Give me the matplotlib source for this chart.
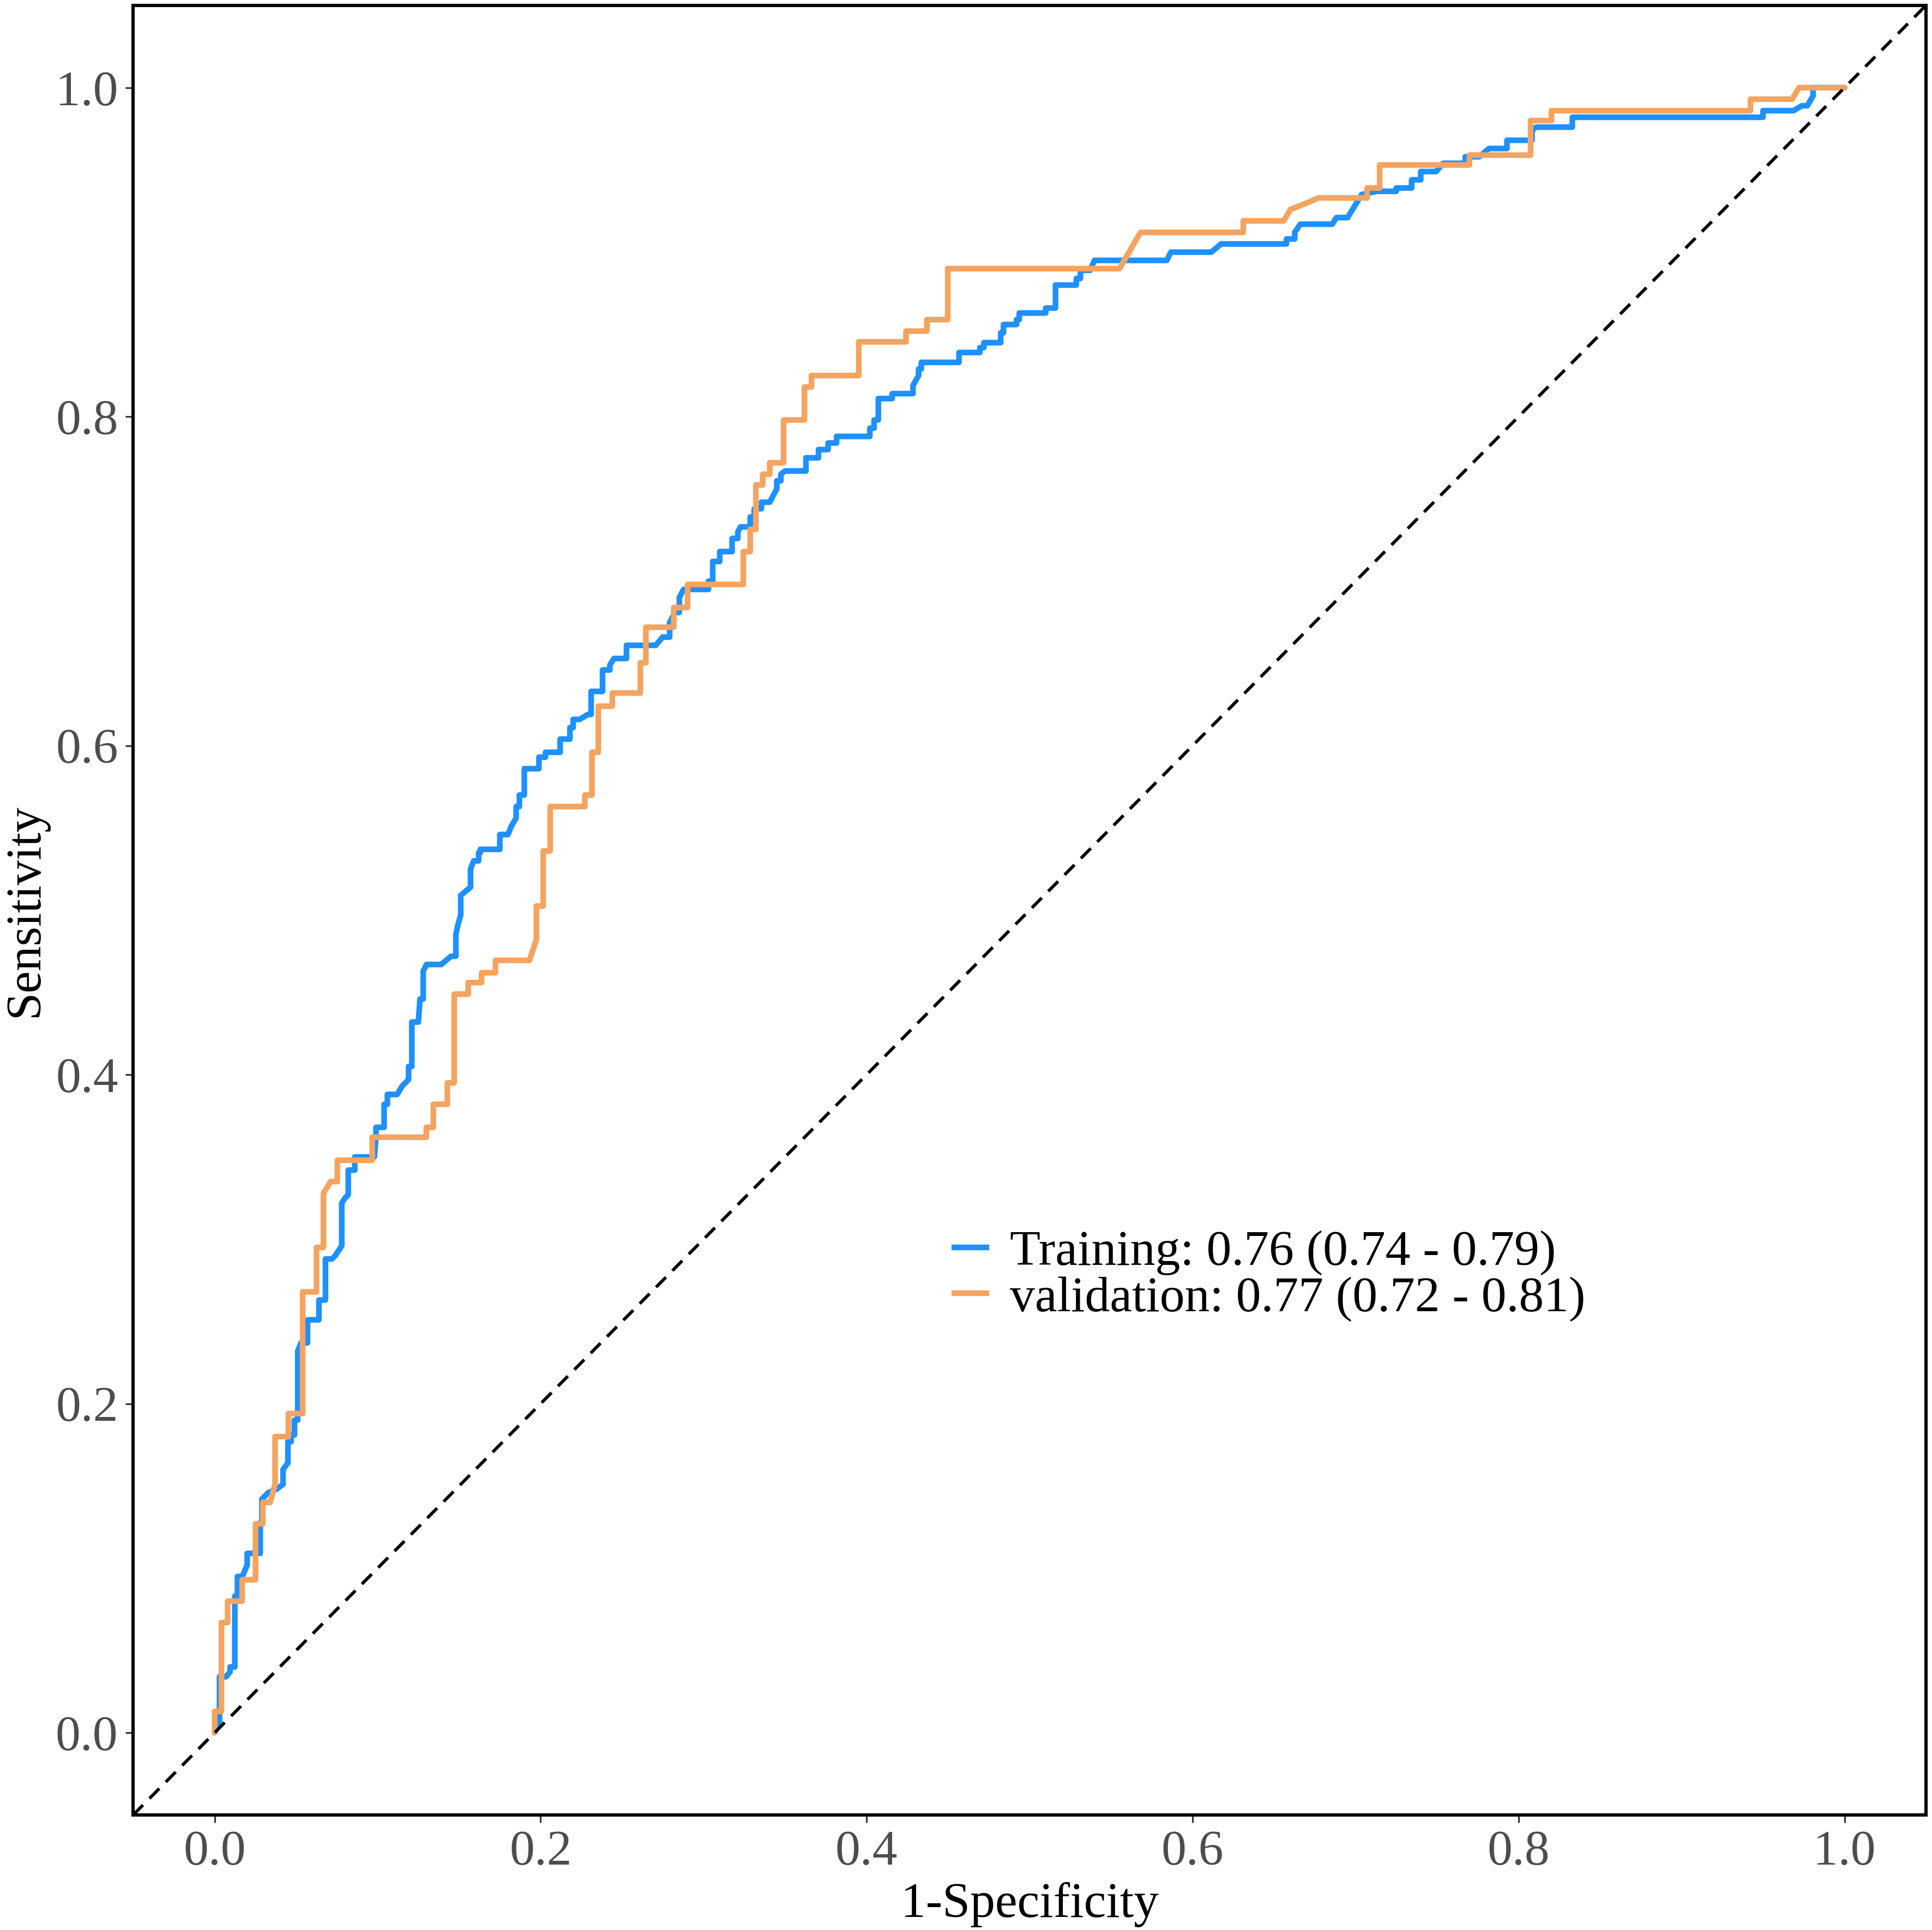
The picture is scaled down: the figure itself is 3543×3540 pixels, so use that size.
# ROC curves for the training and validation sets
import matplotlib
matplotlib.use("Agg")
import matplotlib.pyplot as plt

# Curve vertices (1-specificity, sensitivity)
fpr_train = [0.000, 0.003, 0.003, 0.007, 0.0095, 0.0095, 0.0124, 0.0124, 0.014, 0.014,
             0.017, 0.020, 0.020, 0.028, 0.028, 0.029, 0.029, 0.033, 0.038, 0.042,
             0.042, 0.045, 0.045, 0.047, 0.047, 0.049, 0.049, 0.051, 0.051, 0.053,
             0.057, 0.057, 0.064, 0.064, 0.068, 0.068, 0.072, 0.074, 0.078, 0.078,
             0.080, 0.082, 0.082, 0.086, 0.086, 0.098, 0.099, 0.099, 0.104, 0.104,
             0.106, 0.106, 0.112, 0.115, 0.119, 0.119, 0.121, 0.121, 0.125, 0.126,
             0.128, 0.128, 0.130, 0.139, 0.145, 0.148, 0.148, 0.149, 0.151, 0.151,
             0.157, 0.157, 0.159, 0.162, 0.162, 0.163, 0.163, 0.175, 0.175, 0.180,
             0.182, 0.185, 0.185, 0.187, 0.187, 0.190, 0.190, 0.199, 0.199, 0.203,
             0.203, 0.212, 0.212, 0.218, 0.218, 0.220, 0.220, 0.224, 0.229, 0.231,
             0.231, 0.238, 0.238, 0.2425, 0.2425, 0.245, 0.2527, 0.2527, 0.2706, 0.2749,
             0.2792, 0.2792, 0.2826, 0.2851, 0.2851, 0.2877, 0.303, 0.303, 0.3056, 0.3056,
             0.3099, 0.3099, 0.3175, 0.3175, 0.321, 0.321, 0.3227, 0.3286, 0.3286, 0.3311,
             0.3311, 0.3355, 0.3355, 0.3406, 0.3432, 0.3449, 0.3449, 0.3474, 0.3474, 0.350,
             0.3628, 0.3628, 0.3705, 0.3705, 0.3764, 0.3764, 0.3816, 0.3816, 0.402, 0.402,
             0.4046, 0.4046, 0.4072, 0.4072, 0.4157, 0.4157, 0.4285, 0.4285, 0.4319, 0.4319,
             0.4336, 0.4336, 0.4567, 0.4567, 0.4695, 0.4695, 0.472, 0.472, 0.4823, 0.4823,
             0.484, 0.484, 0.492, 0.492, 0.4937, 0.4937, 0.5099, 0.5099, 0.5159, 0.5159,
             0.5287, 0.5287, 0.5312, 0.5312, 0.5372, 0.5398, 0.5842, 0.5867, 0.6115, 0.6175,
             0.6576, 0.6576, 0.6627, 0.6627, 0.6661, 0.6857, 0.6883, 0.6951, 0.7037, 0.713,
             0.725, 0.725, 0.7344, 0.7344, 0.740, 0.740, 0.7494, 0.7537, 0.7673, 0.7673,
             0.7759, 0.7818, 0.7929, 0.7929, 0.8083, 0.8083, 0.8108, 0.833, 0.833, 0.950,
             0.950, 0.9687, 0.9738, 0.9772, 0.9807, 0.9807, 1.000]
tpr_train = [0.000, 0.006, 0.034, 0.034, 0.037, 0.040, 0.040, 0.083, 0.083, 0.095,
             0.095, 0.102, 0.109, 0.109, 0.127, 0.129, 0.142, 0.146, 0.148, 0.151,
             0.160, 0.164, 0.177, 0.177, 0.181, 0.181, 0.190, 0.190, 0.232, 0.237,
             0.237, 0.251, 0.251, 0.263, 0.263, 0.288, 0.288, 0.290, 0.296, 0.322,
             0.325, 0.327, 0.342, 0.342, 0.350, 0.350, 0.362, 0.368, 0.368, 0.382,
             0.382, 0.388, 0.388, 0.393, 0.397, 0.405, 0.405, 0.432, 0.432, 0.446,
             0.446, 0.463, 0.467, 0.467, 0.472, 0.472, 0.485, 0.490, 0.497, 0.509,
             0.514, 0.525, 0.530, 0.530, 0.535, 0.535, 0.537, 0.537, 0.546, 0.546,
             0.551, 0.556, 0.563, 0.563, 0.570, 0.570, 0.586, 0.586, 0.593, 0.593,
             0.596, 0.596, 0.604, 0.604, 0.611, 0.611, 0.616, 0.616, 0.619, 0.619,
             0.633, 0.633, 0.646, 0.646, 0.649, 0.653, 0.653, 0.661, 0.661, 0.666,
             0.666, 0.675, 0.681, 0.681, 0.690, 0.695, 0.695, 0.700, 0.700, 0.712,
             0.712, 0.718, 0.718, 0.726, 0.726, 0.730, 0.733, 0.733, 0.739, 0.739,
             0.744, 0.744, 0.748, 0.748, 0.753, 0.756, 0.761, 0.761, 0.765, 0.767,
             0.767, 0.775, 0.775, 0.780, 0.780, 0.784, 0.784, 0.788, 0.788, 0.793,
             0.793, 0.798, 0.798, 0.811, 0.811, 0.814, 0.814, 0.819, 0.825, 0.829,
             0.829, 0.833, 0.833, 0.839, 0.839, 0.842, 0.842, 0.845, 0.845, 0.851,
             0.851, 0.856, 0.856, 0.859, 0.859, 0.863, 0.863, 0.866, 0.866, 0.880,
             0.880, 0.884, 0.884, 0.889, 0.889, 0.895, 0.895, 0.900, 0.900, 0.905,
             0.905, 0.908, 0.908, 0.912, 0.917, 0.917, 0.921, 0.921, 0.935, 0.937,
             0.937, 0.939, 0.939, 0.944, 0.944, 0.949, 0.949, 0.954, 0.954, 0.958,
             0.958, 0.963, 0.963, 0.968, 0.968, 0.974, 0.976, 0.976, 0.982, 0.982,
             0.986, 0.986, 0.989, 0.989, 0.995, 1.000, 1.000]

fpr_valid = [0.000, 0.000, 0.0042, 0.0042, 0.008, 0.008, 0.0169, 0.0169, 0.0251, 0.0251,
             0.0296, 0.0296, 0.0341, 0.0371, 0.0371, 0.0453, 0.0453, 0.054, 0.054, 0.0625,
             0.0625, 0.0668, 0.0668, 0.0711, 0.0753, 0.0753, 0.0967, 0.0967, 0.1299, 0.1299,
             0.1342, 0.1342, 0.1428, 0.1428, 0.147, 0.147, 0.1556, 0.1556, 0.1638, 0.1638,
             0.1723, 0.1723, 0.1931, 0.1974, 0.1974, 0.2016, 0.2016, 0.2059, 0.2059, 0.2272,
             0.2272, 0.2315, 0.2315, 0.2354, 0.2354, 0.244, 0.244, 0.2612, 0.2612, 0.2646,
             0.2646, 0.2817, 0.2817, 0.2902, 0.2902, 0.3244, 0.3244, 0.3286, 0.3286, 0.3321,
             0.3321, 0.3363, 0.3363, 0.3406, 0.3406, 0.3491, 0.3491, 0.3619, 0.3619, 0.3662,
             0.3662, 0.3952, 0.3952, 0.4242, 0.4242, 0.437, 0.437, 0.4498, 0.4498, 0.5552,
             0.568, 0.6311, 0.6311, 0.6559, 0.6601, 0.6704, 0.6772, 0.7071, 0.7071, 0.7148,
             0.7148, 0.7699, 0.7699, 0.8074, 0.8074, 0.8202, 0.8202, 0.9423, 0.9423, 0.9679,
             0.9721, 1.000]
tpr_valid = [0.000, 0.013, 0.013, 0.067, 0.067, 0.080, 0.080, 0.093, 0.093, 0.127,
             0.127, 0.140, 0.140, 0.151, 0.180, 0.180, 0.194, 0.194, 0.268, 0.268,
             0.295, 0.295, 0.328, 0.335, 0.335, 0.348, 0.348, 0.362, 0.362, 0.368,
             0.368, 0.382, 0.382, 0.395, 0.395, 0.449, 0.449, 0.456, 0.456, 0.462,
             0.462, 0.4695, 0.4695, 0.482, 0.5025, 0.5025, 0.536, 0.536, 0.563, 0.563,
             0.570, 0.570, 0.596, 0.596, 0.624, 0.624, 0.632, 0.632, 0.6504, 0.6504,
             0.672, 0.672, 0.684, 0.684, 0.698, 0.698, 0.718, 0.718, 0.7315, 0.7315,
             0.7585, 0.7585, 0.765, 0.765, 0.772, 0.772, 0.798, 0.798, 0.818, 0.818,
             0.825, 0.825, 0.8455, 0.8455, 0.852, 0.852, 0.859, 0.859, 0.890, 0.890,
             0.912, 0.912, 0.919, 0.919, 0.926, 0.930, 0.933, 0.933, 0.939, 0.939,
             0.953, 0.953, 0.959, 0.959, 0.980, 0.980, 0.986, 0.986, 0.993, 0.993,
             1.000, 1.000]

labels = ["Training: 0.76 (0.74 - 0.79)", "validation: 0.77 (0.72 - 0.81)"]
colors = ["#1E90FF", "#F4A460"]
ticks = [0.0, 0.2, 0.4, 0.6, 0.8, 1.0]

plt.rcParams["font.family"] = ["Liberation Serif", "DejaVu Serif"]

fig = plt.figure(figsize=(3543 / 300, 3540 / 300), dpi=300)
ax = fig.add_axes([0.0689, 0.0596, 0.928, 0.9376])

# diagonal reference line
ax.axline((0, 0), (1, 1), color="black", lw=1.4, dashes=(4.4, 2.9), zorder=4)

for fpr, tpr, col, lab in [(fpr_train, tpr_train, colors[0], labels[0]),
                           (fpr_valid, tpr_valid, colors[1], labels[1])]:
    ax.plot(fpr, tpr, color=col, lw=2.5, label=lab,
            solid_joinstyle="round", solid_capstyle="round", zorder=3)

ax.set_xlim(-0.05, 1.05)
ax.set_ylim(-0.05, 1.05)
ax.set_xticks(ticks)
ax.set_yticks(ticks)
ax.set_xticklabels([f"{t:.1f}" for t in ticks])
ax.set_yticklabels([f"{t:.1f}" for t in ticks])
ax.tick_params(axis="both", labelsize=22, labelcolor="#4D4D4D", color="#333333",
               length=3.4, width=0.75, pad=3.2)
for sp in ax.spines.values():
    sp.set_linewidth(1.45)
    sp.set_color("black")

ax.set_xlabel("1-Specificity", fontsize=22, color="black", labelpad=3)
ax.set_ylabel("Sensitivity", fontsize=22, color="black", labelpad=3.5)

leg = ax.legend(loc="center left", bbox_to_anchor=(0.4565, 0.298), frameon=False,
                fontsize=22, handlelength=0.75, handletextpad=0.42,
                labelspacing=0.01, borderpad=0, borderaxespad=0)
for line in leg.get_lines():
    line.set_linewidth(2.5)
    line.set_solid_capstyle("butt")

fig.savefig("out.png", dpi=300, facecolor="white")
